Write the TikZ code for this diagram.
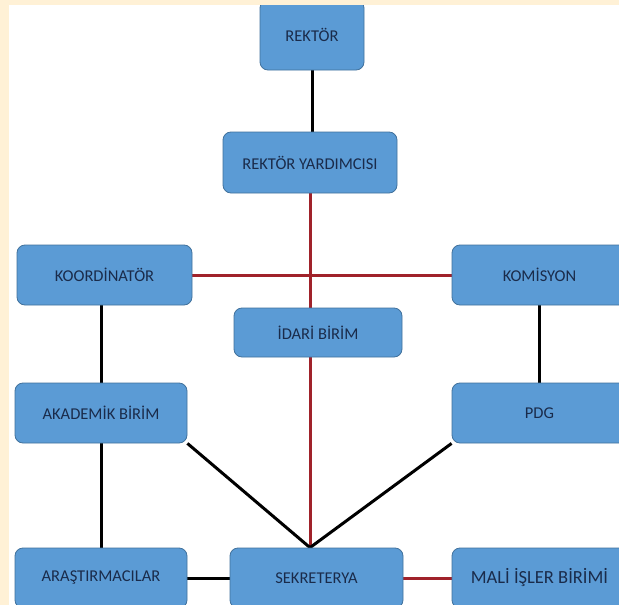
\documentclass[tikz,border=0pt]{standalone}
\usepackage{fontspec}
\setmainfont{Carlito}
\pgfdeclarelayer{background}
\pgfdeclarelayer{edges}
\pgfsetlayers{background,edges,main}
\definecolor{cream}{HTML}{FFF1D6}
\definecolor{boxfill}{HTML}{5B9BD5}
\definecolor{boxline}{HTML}{41719C}
\definecolor{boxtext}{HTML}{1A2B4A}
\definecolor{redline}{HTML}{A0222A}
\begin{document}
\begin{tikzpicture}[x=1pt,y=-1pt,
  orgbox/.style={draw=boxline, line width=0.8pt, fill=boxfill, rounded corners=8pt,
    inner sep=0pt, text=boxtext, font=\fontsize{16.5}{18}\selectfont,
    minimum width=174pt, minimum height=60pt},
  blk/.style={line width=3pt, black},
  rd/.style={line width=3pt, redline}]
\useasboundingbox (0,0) rectangle (619,605);
\begin{pgfonlayer}{background}
  \fill[cream] (0,0) rectangle (619,605);
  \fill[white] (9,5) rectangle (619,605);
\end{pgfonlayer}
\begin{scope}
  \clip (9,5) rectangle (619,605);
  \node[orgbox, minimum width=104pt, minimum height=70pt] (rek) at (312,35) {REKTÖR};
  \node[orgbox, minimum height=61pt] (yard) at (310,162.5) {REKTÖR YARDIMCISI};
  \node[orgbox, minimum width=175pt] (koor) at (104.5,275) {KOORDİNATÖR};
  \node[orgbox, minimum width=175pt] (kom) at (539.5,275) {KOMİSYON};
  \node[orgbox, minimum width=168pt, minimum height=49pt] (idari) at (318,332.5) {İDARİ BİRİM};
  \node[orgbox, minimum width=172pt] (akad) at (101,413) {AKADEMİK BİRİM\hspace{20pt}};
  \node[orgbox, minimum width=175pt] (pdg) at (539.5,413) {PDG};
  \node[orgbox, minimum width=172pt] (aras) at (101,578) {ARAŞTIRMACILAR};
  \node[orgbox, minimum width=173pt] (sek) at (316.5,578) {SEKRETERYA\hspace{28pt}};
  \node[orgbox, minimum width=175pt, font=\fontsize{18.5}{20}\selectfont] (mali) at (539.5,578) {MALİ İŞLER BİRİMİ};
\end{scope}
\coordinate (meet) at (yard.south |- sek.north);
\begin{pgfonlayer}{edges}
  \draw[blk] (rek.south) -- (rek.south |- yard.north);
  \draw[rd] (yard.south) -- (meet);
  \draw[rd] (koor.east) -- (kom.west);
  \draw[blk] (koor.south -| akad.north) -- (akad.north);
  \draw[blk] (kom.south) -- (pdg.north);
  \draw[blk] (akad.south) -- (aras.north);
  \draw[blk] (akad.south east) -- (meet);
  \draw[blk] (pdg.south west) -- (meet);
  \draw[blk] (aras.east) -- (sek.west);
  \draw[rd] (sek.east) -- (mali.west);
\end{pgfonlayer}
\end{tikzpicture}
\end{document}
